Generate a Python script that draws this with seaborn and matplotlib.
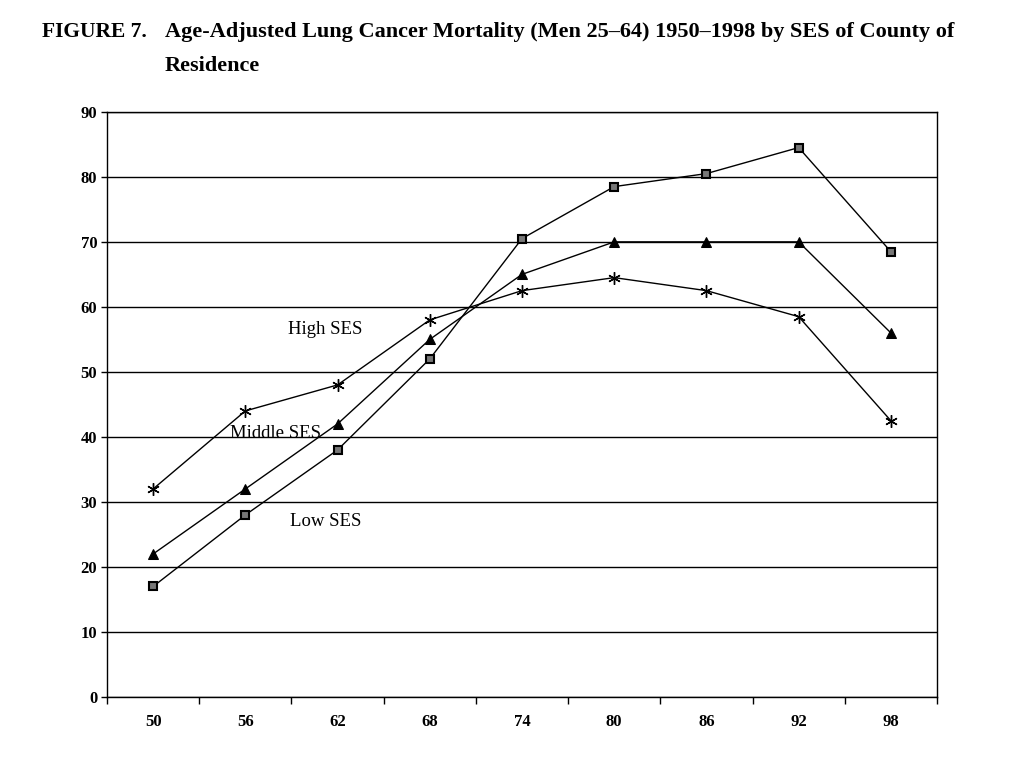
import pandas as pd
import seaborn as sns
import matplotlib.pyplot as plt

years = [50, 56, 62, 68, 74, 80, 86, 92, 98]
high_ses = [32, 44, 48, 58, 62.5, 64.5, 62.5, 58.5, 42.5]
middle_ses = [22, 32, 42, 55, 65, 70, 70, 70, 56]
low_ses = [17, 28, 38, 52, 70.5, 78.5, 80.5, 84.5, 68.5]

sns.set_style('white')
plt.rcParams['font.family'] = ['Liberation Serif', 'DejaVu Serif']
plt.rcParams['text.color'] = 'black'
plt.rcParams['xtick.color'] = 'black'
plt.rcParams['ytick.color'] = 'black'

fig = plt.figure(figsize=(10.24, 7.68), dpi=100)
ax = fig.add_axes([0.1045, 0.0924, 0.8105, 0.762])

# three series, one call each (seaborn won't mix filled and line markers)
sns.lineplot(x=years, y=high_ses, color='black', linewidth=1, marker=(6, 2, 0),
             markersize=9, markeredgewidth=1, markeredgecolor='black', ax=ax, zorder=3)
sns.lineplot(x=years, y=middle_ses, color='black', linewidth=1, marker='^',
             markersize=7, markeredgecolor='black', ax=ax, zorder=3)
sns.lineplot(x=years, y=low_ses, color='black', linewidth=1, marker='s',
             markersize=6, markerfacecolor='#777777', markeredgecolor='black',
             markeredgewidth=1.5, ax=ax, zorder=3)

ax.set_xlim(47, 101)
ax.set_ylim(0, 90)
ax.set_yticks(range(0, 91, 10))
ax.set_xticks(years)
ax.set_xticks(range(47, 102, 6), minor=True)
ax.tick_params(axis='x', which='major', bottom=True, length=0, pad=12, labelsize=12)
ax.tick_params(axis='x', which='minor', bottom=True, length=5, width=1, direction='out', color='black')
ax.tick_params(axis='y', left=True, length=4, width=1, direction='out', color='black', labelsize=12, pad=3)
for lbl in ax.get_xticklabels() + ax.get_yticklabels():
    lbl.set_fontweight('bold')
ax.set_xlabel('')
ax.set_ylabel('')
ax.grid(axis='y', color='black', linewidth=1)
for s in ax.spines.values():
    s.set_color('black')
    s.set_linewidth(1)

ax.text(58.8, 56.5, 'High SES', fontsize=13.5, ha='left', va='center')
ax.text(55.0, 40.5, 'Middle SES', fontsize=13.5, ha='left', va='center')
ax.text(58.9, 27, 'Low SES', fontsize=13.5, ha='left', va='center')

fig.text(0.041, 0.958, 'FIGURE 7.', fontsize=15.5, fontweight='bold', va='center')
fig.text(0.161, 0.958, 'Age-Adjusted Lung Cancer Mortality (Men 25\u201364) 1950\u20131998 by SES of County of',
         fontsize=16, fontweight='bold', va='center')
fig.text(0.161, 0.914, 'Residence', fontsize=16, fontweight='bold', va='center')

plt.savefig('out.png', dpi=100)
